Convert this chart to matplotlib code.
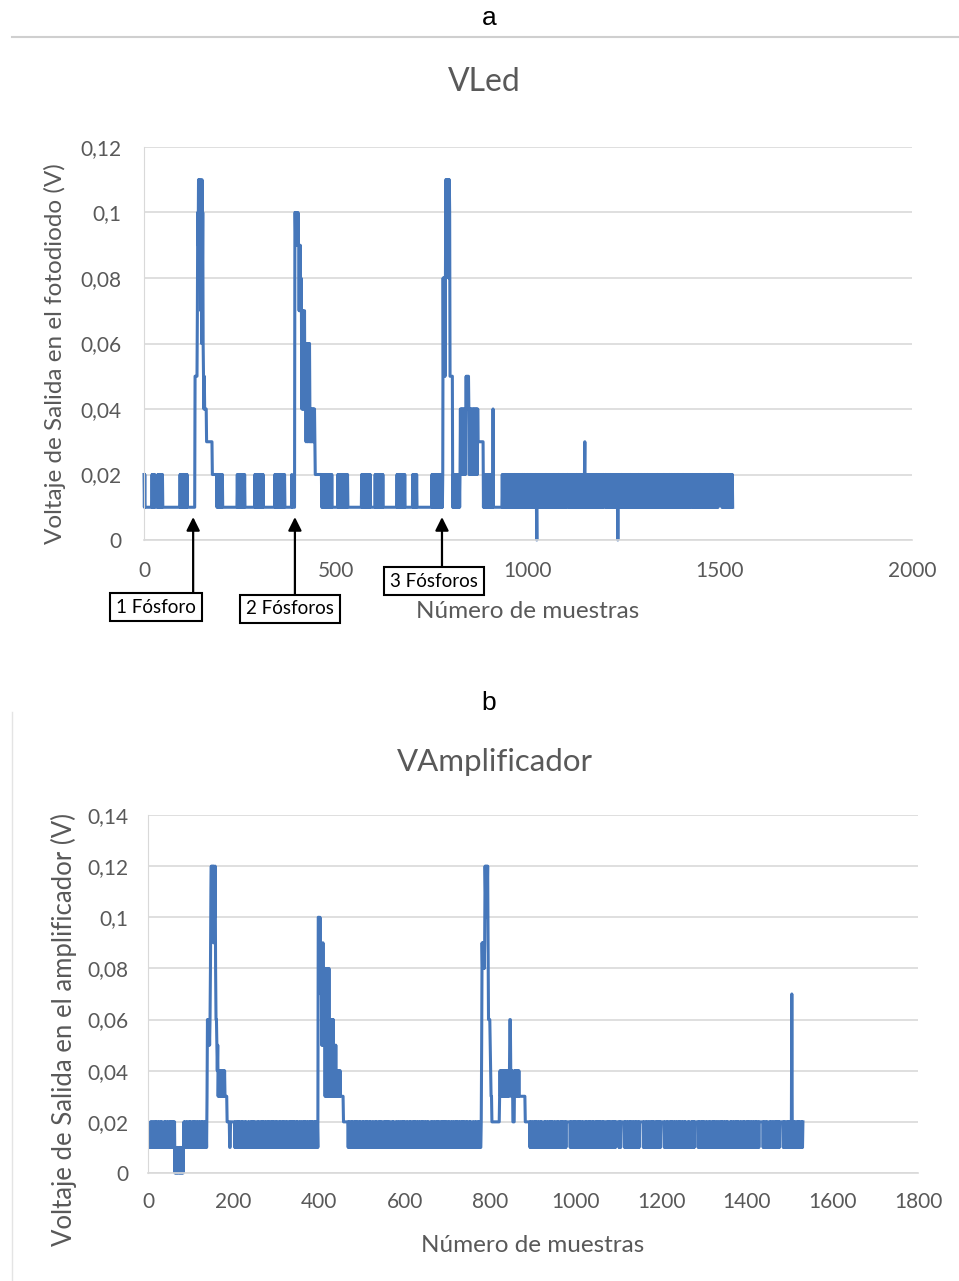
import matplotlib
matplotlib.use('Agg')
import matplotlib.pyplot as plt
from matplotlib.ticker import FuncFormatter
import numpy as np

#%% Datos: un caracter hex por muestra, en centesimas de V
#   (0 = 0 V, 1 = 0,01 V ... c = 0,12 V)
vled_inicio = 0
vled_hex = (
    # muestras 0-132, base con saltos sueltos
    "21211" "1111111111" "111111" "212121221" "111111" "21212212121121"
    "1111111111" "1111111111" "1111111111" "1111111111" "1111"
    "2121211212" "212121212" "1111111111" "1111111111"
    # 1 fosforo
    "555555" "7a9b8ba9b7a6b8a6" "5454" "4444"
    "3333333333" "33333" "2222222222" "22"
    # muestras 190-392
    "1212121211" "2121211"
    "1111111111" "1111111111" "1111111111" "11111"
    "1212121211" "212121212121"
    "1111111111" "1111111111" "11111"
    "2121212121" "121212121212"
    "1111111111" "1111111111" "1111111111"
    "2121212121" "2112121212" "1212121"
    "1111111111" "1111111" "2" "1111111"
    # 2 fosforos
    "aa9a9a99a9" "97979787" "4747464746" "636463646364" "3434343434343"
    "2222222222" "2222222"
    # muestras 463-778
    "1212121211" "2121212121" "21212121"
    "1111111111" "1111"
    "2121212121" "2121212121" "1212121"
    "1111111111" "1111111111" "1111111111" "11111"
    "2121212121" "2121212121" "212"
    "1111111111" "11"
    "2121212121" "2121212121" "2"
    "1111111111" "1111111111" "1111111111" "111111"
    "2121212121" "2121212121" "21"
    "1111111111" "111111111"
    "212121212121"
    "1111111111" "1111111111" "1111111111" "11111111"
    "2121212121" "2121212121" "212121212"
    # 3 fosforos
    "8585858b8b" "bab9b8ba" "5555555"
    "1212121212" "121212121"
    "2424242424" "24242"
    "4545454542" "4242424"
    "4242424242" "42424"
    "3333333333" "3333"
    "1212121212" "1212121212" "12121"
    "4"
    "1111111111" "1111111111" "11"
    # muestras 932-1533, ruido denso
    "1212112122" "1211212121" "2121121212" "1122121211" "2121212112"
    "1212211212" "2112121221" "1212122121" "1212112122" "1"
    "0"
    "2121212112" "1211212121" "1122121211" "2121121212" "1212211212"
    "1212122121" "2112121221" "1212112122" "2121212112" "1211212121"
    "1122121211" "2121121212" "1212"
    "3"
    "1212211212" "2121212112" "1212112122" "1211212121" "2112121221"
    "1122121211" "1212122121" "2121121212" "12121"
    "0"
    "1212112122" "1211212121" "2121121212" "1122121211" "2121212112"
    "1212211212" "2112121221" "1212122121" "1211212121" "2121212112"
    "1122121211" "1212112122" "2121121212" "1212211212" "2112121221"
    "1212122121" "1212112122" "2121212112" "1211212121" "1122121211"
    "2121121212" "1212211212" "1212122121" "2112121221" "1212112122"
    "2121212112" "12"
    "22222222"
    "1211212121" "2121121212" "121212121"
)

vamp_inicio = 5
vamp_hex = (
    # muestras 5-137
    "1212112122" "2121212112" "1211212121" "1122121211" "2121121212" "12121212"
    "0101010100" "1010101010"
    "1212211212" "2112121221" "1212122121" "1212112122" "2121212112" "12121"
    # pico 1
    "36565656" "8bcacbc9cbac86" "6545" "3434343434" "3434343"
    "3333" "222222" "11" "2222222222"
    # muestras 203-397
    "1211212121" "2121121212" "1122121211" "1212211212" "2121212112"
    "2112121221" "1212122121" "1212112122" "1211212121" "2121121212"
    "1122121211" "2121212112" "1212211212" "1212122121" "2112121221"
    "1212112122" "2121212112" "1211212121" "2121121212" "12121"
    # pico 2
    "aaa9a" "9795859585" "838373837383" "636363636" "3434353434" "343434"
    "3333333" "2222222222" "2"
    # muestras 468-779
    "1212112122" "1211212121" "2121121212" "1122121211" "2121212112"
    "1212211212" "2112121221" "1212122121" "1211212121" "2121212112"
    "1122121211" "1212112122" "2121121212" "1212211212" "2112121221"
    "1212122121" "1212112122" "2121212112" "1211212121" "1122121211"
    "2121121212" "1212211212" "1212122121" "2112121221" "1212112122"
    "2121212112" "1211212121" "2121121212" "1122121211" "1212211212"
    "2112121221" "12"
    # pico 3
    "59898989" "cbcacbc9" "66665" "43322" "2222222222" "222222"
    "3434343434" "3434343434" "3434" "66" "43434" "2222" "4343434343" "43"
    "3333333333" "333" "2222222222" "2"
    # muestras 893-1531
    "1212112122" "2121212112" "1211212121" "1122121211" "2121121212"
    "1212211212" "2112121221" "1212122121" "121212"
    "22222222" "12"
    "1211212121" "2121121212" "1212112122" "1122121211" "2121212112"
    "1212211212" "1212122121" "2112121221" "1211212121" "2121121212" "12121"
    "2222222" "12121" "22222222"
    "1212112122" "2121212112" "1211212121" "121212"
    "22222222" "12"
    "1122121211" "2121121212" "1212211212" "121212121"
    "22222222" "12"
    "2112121221" "1212122121" "1212112122" "2121212112" "1211212121"
    "1122121211" "121212121"
    "22222222" "12"
    "2121121212" "1212211212" "2112121221" "1212122121" "1212112122"
    "2121212112" "1211212121" "1122121211" "2121121212" "1212211212"
    "2112121221" "1212122121" "1212112122" "2121212112" "12"
    "22222222" "12"
    "1211212121" "1122121211" "2121121212" "1212121"
    "22222222" "12"
    "1212211212" "12121212"
    "7"
    "2112121221" "1212122121" "121212"
)

fosforo_textos = ['1 Fósforo', '2 Fósforos', '3 Fósforos']
fosforo_muestras = [128, 393, 776]

vled = np.array([int(c, 16) for c in vled_hex]) / 100
muestras_led = vled_inicio + np.arange(len(vled))
vamp = np.array([int(c, 16) for c in vamp_hex]) / 100
muestras_amp = vamp_inicio + np.arange(len(vamp))

#%% Figura
W, H = 959, 1281
azul = '#4677ba'
gris = '#595959'
fuente = 'Lato'

fig = plt.figure(figsize=(W / 100, H / 100), dpi=100)
fig.patch.set_facecolor('white')


def fx(x):
    return x / W


def fy(y):
    return 1 - y / H


def estilo(ax, xmax, xpaso, ymax, xpad, ypad):
    ax.set_xlim(0, xmax)
    ax.set_ylim(0, ymax)
    ax.set_xticks(np.arange(0, xmax + 1, xpaso))
    ax.set_yticks(np.arange(0, ymax + 1e-9, 0.02))
    ax.yaxis.set_major_formatter(FuncFormatter(lambda v, p: f'{v:g}'.replace('.', ',')))
    ax.grid(axis='y', color='#d9d9d9', lw=1.2)
    ax.set_axisbelow(True)
    for s in ['top', 'right']:
        ax.spines[s].set_visible(False)
    ax.spines['left'].set_color('#d9d9d9')
    ax.spines['bottom'].set_color('#d9d9d9')
    ax.spines['bottom'].set_linewidth(1.2)
    ax.tick_params(length=0, labelsize=15, labelcolor=gris)
    ax.tick_params(axis='x', pad=xpad)
    ax.tick_params(axis='y', pad=ypad)
    for lab in ax.get_xticklabels() + ax.get_yticklabels():
        lab.set_fontfamily(fuente)


# linea superior de la pagina
fig.add_artist(plt.Line2D([fx(12), fx(959)], [fy(37), fy(37)], color='#cfcfcf', lw=1.5))
fig.add_artist(plt.Line2D([fx(12), fx(12)], [fy(712), fy(1281)], color='#e4e4e4', lw=1))

# ---- a: VLed
fig.text(fx(489), fy(18), 'a', ha='center', va='center', fontsize=19,
         family='Liberation Sans', color='black')
fig.text(fx(484), fy(82), 'VLed', ha='center', va='center', fontsize=23,
         family=fuente, color=gris)

ax1 = fig.add_axes([fx(144), fy(540), fx(912) - fx(144), fy(147) - fy(540)])
estilo(ax1, 2000, 500, 0.12, 15, 16)
ax1.plot(muestras_led, vled, color=azul, lw=2.2, clip_on=False)
fig.text(fx(528), fy(612), 'Número de muestras', ha='center', va='center',
         fontsize=17.5, family=fuente, color=gris)
fig.text(fx(55), fy(354), 'Voltaje de Salida en el fotodiodo (V)', ha='center',
         va='center', rotation=90, fontsize=17.5, family=fuente, color=gris)

# flechas y cajas de los fosforos
cajas = [(156, 607, 594), (290, 609, 596), (434, 581, 568)]
for texto, m, (cx, cy, cola) in zip(fosforo_textos, fosforo_muestras, cajas):
    ax1.annotate('', xy=(m, 0.007), xycoords='data',
                 xytext=(m, fy(cola)), textcoords=('data', 'figure fraction'),
                 arrowprops=dict(arrowstyle='-|>', color='black', lw=1.6,
                                 mutation_scale=20, shrinkA=0, shrinkB=0),
                 annotation_clip=False)
    fig.text(fx(cx), fy(cy), texto, ha='center', va='center', fontsize=13.5,
             family=fuente, color='black',
             bbox=dict(boxstyle='square,pad=0.3', fc='white', ec='black', lw=1.5))

# ---- b: VAmplificador
fig.text(fx(489), fy(703), 'b', ha='center', va='center', fontsize=19,
         family='Liberation Sans', color='black')
fig.text(fx(495), fy(762), 'VAmplificador', ha='center', va='center', fontsize=22.5,
         family=fuente, color=gris)

ax2 = fig.add_axes([fx(148), fy(1173), fx(918) - fx(148), fy(815) - fy(1173)])
estilo(ax2, 1800, 200, 0.14, 14, 14)
ax2.plot(muestras_amp, vamp, color=azul, lw=2.2, clip_on=False)
fig.text(fx(533), fy(1246), 'Número de muestras', ha='center', va='center',
         fontsize=17.5, family=fuente, color=gris)
fig.text(fx(64), fy(1030), 'Voltaje de Salida en el amplificador (V)', ha='center',
         va='center', rotation=90, fontsize=18.5, family=fuente, color=gris)

plt.savefig('out.png', dpi=100, facecolor='white')
